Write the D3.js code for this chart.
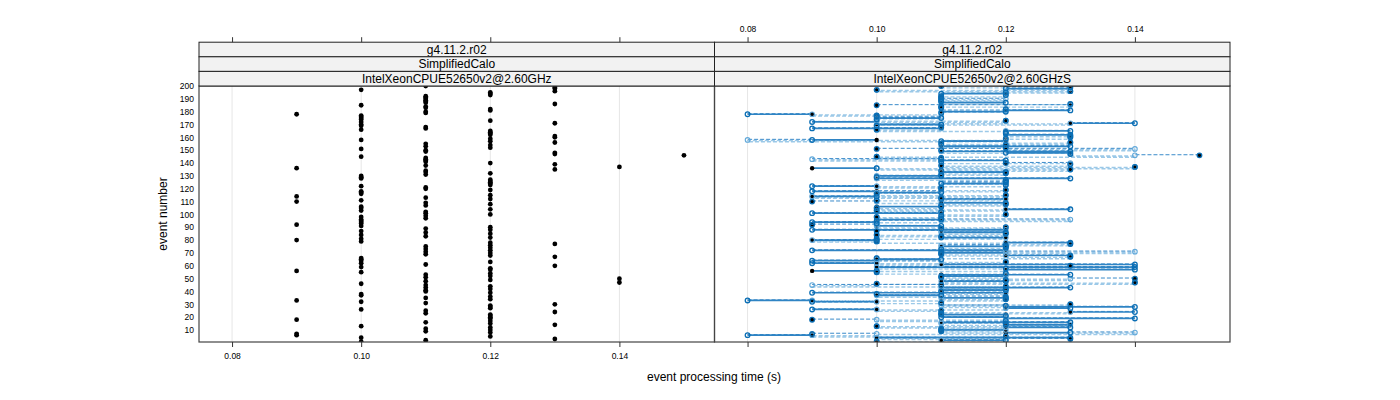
<!DOCTYPE html>
<html><head><meta charset="utf-8">
<script src="https://cdn.jsdelivr.net/npm/d3@7/dist/d3.min.js"></script>
<style>
body{margin:0;background:#fff}
svg{display:block}
text{font-family:"Liberation Sans",Arial,Helvetica,sans-serif}
</style>
</head><body>
<svg id="chart" width="1400" height="400"></svg>
<script>
// ---------------- data (event processing time in ms per event number) ----------------
const eventNumbers = d3.range(1, 201);
const timeA = [
100,110,130,100,120,90,90,120,110,120,
110,120,100,130,120,110,120,90,120,120,
120,120,110,130,110,100,120,120,120,130,
110,100,90,120,110,120,100,100,120,110,
110,120,110,120,110,100,140,110,120,140,
110,120,110,120,100,90,120,120,100,130,
110,100,120,100,100,100,130,120,110,120,
110,120,110,120,110,120,130,120,100,90,
100,120,110,100,120,110,100,120,110,120,
100,90,100,100,100,100,110,100,110,120,
110,110,100,120,100,100,110,120,110,90,
100,120,110,90,120,100,100,100,120,110,
110,100,120,120,120,120,120,100,100,100,
110,120,110,110,130,90,140,110,130,120,
110,110,110,110,100,150,130,130,110,110,
100,120,110,120,110,130,120,100,120,130,
130,120,120,120,120,100,110,110,100,100,
130,100,120,100,100,100,100,90,110,110,
120,120,110,110,100,130,110,110,110,110,
110,110,120,120,120,130,100,130,130,110];
const timeB = [
100,120,130,130,120,80,90,130,110,110,
110,130,100,120,120,130,120,90,140,110,
120,110,110,140,110,90,130,140,120,130,
110,90,80,120,120,120,110,100,90,110,
120,120,130,120,110,100,140,120,120,140,
110,110,130,120,100,100,140,120,140,130,
140,90,120,90,110,100,130,130,110,110,
110,90,110,120,120,120,130,130,100,100,
100,110,110,100,120,120,100,90,110,120,
110,90,100,90,100,110,110,100,110,120,
90,110,100,130,100,110,110,120,120,90,
100,110,110,100,120,100,110,90,120,110,
110,90,120,110,120,120,120,130,100,110,
110,120,120,110,130,100,140,110,130,120,
110,120,110,110,100,150,130,120,130,110,
100,120,130,120,110,130,110,90,120,130,
130,130,120,120,130,100,90,110,100,110,
140,90,120,100,110,100,100,80,110,120,
130,120,110,110,100,130,120,110,110,110,
110,110,120,110,120,130,100,120,130,110];
const timeC = [
100,110,120,100,120,90,100,140,110,120,
110,120,100,130,110,110,120,100,120,120,
120,110,110,130,110,100,120,120,110,130,
110,100,90,120,110,110,100,100,120,110,
110,120,110,120,90,100,140,110,120,130,
110,120,120,120,100,100,120,120,100,130,
110,100,120,110,100,100,130,120,110,120,
140,120,110,120,110,110,130,120,100,90,
100,120,110,100,120,110,110,120,110,120,
100,100,100,100,110,130,110,100,110,120,
110,110,100,120,100,110,110,120,110,100,
100,120,110,90,120,100,100,110,120,110,
110,100,120,120,110,120,120,100,100,100,
110,120,110,110,130,100,140,110,130,130,
110,110,90,110,100,140,130,130,110,110,
140,120,110,120,110,130,120,80,120,130,
130,120,120,120,120,100,110,110,100,100,
130,100,120,100,100,110,100,90,110,110,
120,120,110,110,130,130,110,110,110,120,
110,110,120,120,120,130,100,130,120,110];
const xTickValues = [0.08, 0.10, 0.12, 0.14];
const yTickValues = [10,20,30,40,50,60,70,80,90,100,110,120,130,140,150,160,170,180,190,200];
const stripTop = ["g4.11.2.r02", "SimplifiedCalo"];
const panelNames = ["IntelXeonCPUE52650v2@2.60GHz", "IntelXeonCPUE52650v2@2.60GHzS"];
const xTitle = "event processing time (s)";
const yTitle = "event number";

// ---------------- layout ----------------
const svg = d3.select("#chart");
const panelW = 515.5, topY = 86, bottomY = 342, H = bottomY - topY;
const stripH = 14.6;
const panelX = [199, 714.5];
const x = d3.scaleLinear().domain([0.07488, 0.15473]).range([0, panelW]);
const y = d3.scaleLinear().domain([0.65, 200]).range([H, 0]);
const fmt = d3.format(".2f");

svg.append("defs").append("clipPath").attr("id", "pclip")
  .append("rect").attr("width", panelW).attr("height", H);

const rows = eventNumbers.map((e, i) => ({e, a: timeA[i] / 1000, b: timeB[i] / 1000, c: timeC[i] / 1000}));

panelX.forEach((px, pi) => {
  const g = svg.append("g").attr("transform", `translate(${px},${topY})`);
  // grid
  g.append("g").selectAll("line").data(xTickValues).join("line")
    .attr("x1", d => x(d)).attr("x2", d => x(d)).attr("y1", 0).attr("y2", H)
    .attr("stroke", "#e6e6e6").attr("stroke-width", 1);
  const body = g.append("g").attr("clip-path", "url(#pclip)");

  if (pi === 0) {
    body.selectAll("circle").data(rows).join("circle")
      .attr("cx", d => x(d.a)).attr("cy", d => y(d.e)).attr("r", 2.4).attr("fill", "#000");
  } else {
    // run C: step line (light dashed)
    body.append("path").datum(rows.map(d => [x(d.c), y(d.e) + 0.6]))
      .attr("d", d3.line().curve(d3.curveStepAfter))
      .attr("fill", "none").attr("stroke", "#9cc9e8").attr("stroke-width", 1.4)
      .attr("stroke-dasharray", "4,2");
    // per-event differences between runs
    const segs = [];
    rows.forEach(d => {
      if (d.b !== d.c) segs.push({e: d.e, x0: d.b, x1: d.c, k: "dash"});
      if (d.a !== d.b) segs.push({e: d.e, x0: d.a, x1: d.b, k: "solid"});
    });
    const sty = {
      dash: {c: "#3a8bca", w: 1, da: "4,2", dy: -0.6},
      solid: {c: "#2f84c4", w: 1.7, da: null, dy: 0}
    };
    body.selectAll("line.seg").data(segs).join("line").attr("class", "seg")
      .attr("x1", d => x(d.x0)).attr("x2", d => x(d.x1))
      .attr("y1", d => y(d.e) + sty[d.k].dy).attr("y2", d => y(d.e) + sty[d.k].dy)
      .attr("stroke", d => sty[d.k].c).attr("stroke-width", d => sty[d.k].w)
      .attr("stroke-dasharray", d => sty[d.k].da);
    body.selectAll("circle.a").data(rows).join("circle").attr("class", "a")
      .attr("cx", d => x(d.a)).attr("cy", d => y(d.e)).attr("r", 2.2).attr("fill", "#000");
    body.selectAll("circle.c").data(rows).join("circle").attr("class", "c")
      .attr("cx", d => x(d.c)).attr("cy", d => y(d.e)).attr("r", 2.3)
      .attr("fill", "none").attr("stroke", "#62a9da").attr("stroke-width", 1.1);
    body.selectAll("circle.b").data(rows).join("circle").attr("class", "b")
      .attr("cx", d => x(d.b)).attr("cy", d => y(d.e)).attr("r", 2.3)
      .attr("fill", "none").attr("stroke", "#0a6eb4").attr("stroke-width", 1.3);
  }

  // panel frame
  g.append("rect").attr("width", panelW).attr("height", H)
    .attr("fill", "none").attr("stroke", "#444").attr("stroke-width", 1.2);

  // strips
  const strips = [stripTop[0], stripTop[1], panelNames[pi]];
  strips.forEach((s, k) => {
    const sy = -3 * stripH + k * stripH;
    g.append("rect").attr("x", 0).attr("y", sy).attr("width", panelW).attr("height", stripH)
      .attr("fill", "#f2f2f2").attr("stroke", "#222").attr("stroke-width", 1);
    g.append("text").attr("x", panelW / 2).attr("y", sy + stripH / 2).attr("dy", "0.36em")
      .attr("text-anchor", "middle").attr("font-size", 12).attr("fill", "#000").text(s);
  });

  // top axis
  const ta = d3.axisTop(x).tickValues(xTickValues).tickSize(5).tickPadding(5)
    .tickFormat(pi === 1 ? fmt : () => "");
  const tg = g.append("g").attr("transform", `translate(0,${-3 * stripH})`).call(ta);
  // bottom axis
  const ba = d3.axisBottom(x).tickValues(xTickValues).tickSize(5).tickPadding(6)
    .tickFormat(pi === 0 ? fmt : () => "");
  const bg = g.append("g").attr("transform", `translate(0,${H})`).call(ba);
  [tg, bg].forEach(a => {
    a.select(".domain").remove();
    a.selectAll("line").attr("stroke", "#333");
    a.selectAll("text").attr("font-size", 8.5).attr("fill", "#000")
      .style("font-family", '"Liberation Sans",Arial,sans-serif');
  });
  if (pi === 0) {
    const la = d3.axisLeft(y).tickValues(yTickValues).tickSize(0).tickPadding(5);
    const lg = g.append("g").call(la);
    lg.select(".domain").remove();
    lg.selectAll("text").attr("font-size", 8.5).attr("fill", "#000")
      .style("font-family", '"Liberation Sans",Arial,sans-serif');
  }
});

// axis titles
svg.append("text").attr("x", 714).attr("y", 381).attr("text-anchor", "middle")
  .attr("font-size", 12).attr("fill", "#000").text(xTitle);
svg.append("text").attr("transform", "translate(167,214) rotate(-90)").attr("text-anchor", "middle")
  .attr("font-size", 12).attr("fill", "#000").text(yTitle);
</script>
</body></html>
